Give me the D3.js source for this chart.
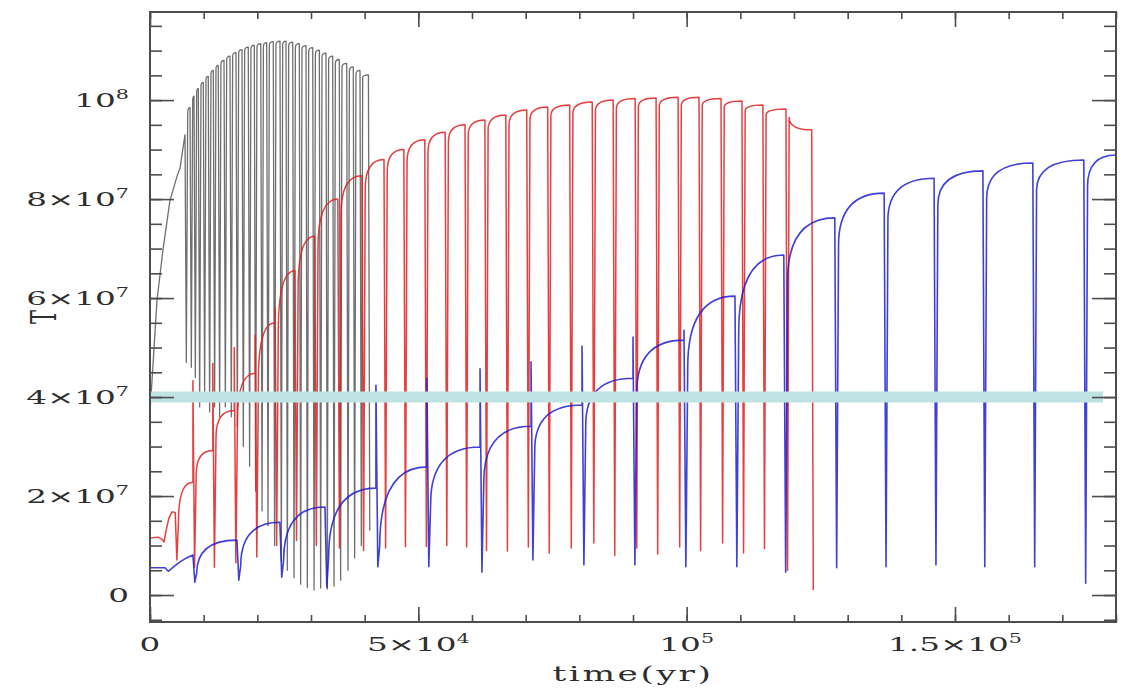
<!DOCTYPE html>
<html>
<head>
<meta charset="utf-8">
<script src="https://cdn.jsdelivr.net/npm/d3@7"></script>
<style>
  html, body { margin: 0; padding: 0; background: #fff; }
  svg { display: block; }
</style>
</head>
<body>
<svg id="chart"></svg>
<script>
// units: time in 10^3 yr, T in 10^6 K

// black run
const blackLead = [[0, 37], [0.5, 45.5], [1.3, 59.5], [2.4, 69.6], [3.7, 79.6], [5.0, 84.5], [5.6, 86.3], [6.1, 90]];
const blackTime = [6.52, 7.45, 8.20, 9.00, 9.93, 10.86, 11.79, 12.72, 13.79, 14.90, 16.02, 17.14, 18.31, 19.43, 20.63, 21.74,
  22.97, 24.22, 25.34, 26.59, 27.82, 29.07, 30.32, 31.55, 32.79, 34.04, 35.27, 36.65, 37.88, 39.13, 40.70];
const blackPre = [93.0, 98.5, 100.8, 102.3, 103.6, 104.8, 106.0, 107.0, 108.0, 108.9, 109.6, 110.2, 110.7, 111.1, 111.4, 111.6,
  111.8, 111.9, 111.9, 111.7, 111.4, 111.0, 110.6, 110.1, 109.5, 108.9, 108.2, 107.4, 106.7, 106.0, 105.1];
const blackLo = [47, 46, 44, 38, 40, 37, 38, 36, 38, 36, 34, 30, 26, 21, 17, 14,
  10, 7, 5, 3.5, 2.2, 1.5, 1.0, 1.4, 1.2, 1.8, 3.0, 5.0, 7.5, 10, 13];
const blackPost = [97.0, 99.8, 101.5, 102.8, 104.0, 105.2, 106.2, 107.2, 108.1, 108.8, 109.4, 109.9, 110.3, 110.6, 110.8, 111.0,
  111.1, 111.1, 110.9, 110.6, 110.2, 109.8, 109.3, 108.7, 108.1, 107.4, 106.6, 105.9, 105.2, 104.5, null];

// red run
const redLead = [[0, 14.7], [0, 11.5], [1.5, 11.7], [2.2, 11.3], [2.6, 10.7], [3.0, 13.0], [3.5, 15.5], [4.1, 16.8]];
const redTime = [4.7, 8.0, 11.7, 15.7, 19.6, 23.3, 27.0, 30.7, 35.0, 39.5, 43.6, 47.3, 51.2, 55.0, 58.7, 62.4,
  66.3, 70.2, 74.1, 78.2, 82.4, 86.3, 90.4, 94.3, 98.4, 102.3, 106.4, 110.3, 114.2, 118.5, 123.3];
const redPre = [16.7, 22.8, 29.2, 37.3, 44.8, 55.0, 65.5, 72.5, 80.0, 84.7, 88.0, 90.0, 92.0, 93.5, 95.0, 96.0,
  97.0, 98.0, 98.6, 99.0, 99.6, 100.0, 100.3, 100.4, 100.6, 100.6, 100.3, 99.8, 99.0, 98.2, 94.0];
const redHi = [null, 43.3, 46.8, 50.0, 52.5, 58.0, null, null, null, null, null, null, null, null, null, null,
  null, null, null, null, null, null, null, null, null, null, null, null, null, null, null];
const redLo = [7.1, 5.6, 5.6, 6.5, 7.7, 10.0, 11.0, 10.0, 9.5, 9.0, 9.5, 9.8, 9.8, 10.0, 9.7, 9.0,
  8.9, 9.7, 8.5, 9.5, 10.5, 8.0, 9.5, 8.3, 9.7, 9.0, 10.5, 8.5, 9.4, 5.0, 1.0];
const redPost = [14.7, 24.2, 31.9, 35.3, 43.3, 53.0, 62.0, 70.0, 77.0, 82.0, 85.5, 87.5, 89.5, 91.5, 93.0, 94.0,
  95.0, 96.0, 96.8, 97.3, 97.8, 98.3, 98.6, 98.8, 98.9, 98.8, 98.5, 97.8, 97.0, 96.5, null];

// blue run
const blueLead = [[0, 0.4], [0, 5.5], [2.8, 5.5], [3.4, 4.8], [4.5, 5.8], [5.6, 6.7], [6.8, 7.5]];
const blueTime = [8.0, 16.2, 24.2, 32.6, 42.1, 51.6, 61.5, 71.0, 80.5, 90.0, 99.5, 109.0, 118.1, 127.6, 136.8, 146.1, 155.2, 164.5, 174.0];
const bluePre = [8.1, 11.1, 14.7, 17.8, 21.6, 25.9, 29.9, 34.1, 38.4, 43.8, 51.5, 60.4, 68.7, 76.2, 81.2, 84.2, 85.7, 87.3, 87.9];
const blueHi = [null, null, null, null, 42.4, 43.8, 45.7, 47.1, 50.3, 52.1, 53.5, null, null, null, null, null, null, null, null];
const blueLo = [2.6, 3.0, 3.6, 1.6, 5.7, 5.7, 4.6, 7.1, 6.1, 6.1, 5.7, 5.7, 4.6, 5.5, 5.7, 6.1, 5.7, 5.7, 2.4];
const bluePost = [4.4, 5.9, 7.1, 7.9, 9.9, 18.6, 23.0, 29.5, 34.5, 41.0, 46.1, 53.3, 63.4, 70.7, 75.8, 78.8, 80.2, 81.8, 82.6];
const blueTail = [180, 88.9];

// reference level
const refLevel = 40;
const refSpan = [0, 177.6];

// ticks
const xMajor = [0, 50, 100, 150];
const xLabels = [['0', ''], ['5×10', '4'], ['10', '5'], ['1.5×10', '5']];
const yMajor = [0, 20, 40, 60, 80, 100];
const yLabels = [['0', ''], ['2×10', '7'], ['4×10', '7'], ['6×10', '7'], ['8×10', '7'], ['10', '8']];
const xMinor = d3.range(0, 181, 10);
const yMinor = d3.range(-5, 116, 5);

const width = 1129;
const height = 690;
const plotLeft = 150, plotRight = 1116, plotTop = 12, plotBottom = 622;
const stretch = 1.72;   // the picture is squashed sideways, text too
const font = '"DejaVu Serif", serif';

const svg = d3.select('#chart')
  .attr('width', width)
  .attr('height', height)
  .attr('viewBox', [0, 0, width, height])
  .style('background', '#fff');

const x = d3.scaleLinear().domain([0, 180]).range([plotLeft, plotRight]);
const y = d3.scaleLinear().domain([-5.45, 117.8]).range([plotBottom, plotTop]);

svg.append('clipPath').attr('id', 'plot')
  .append('rect')
  .attr('x', plotLeft).attr('y', plotTop)
  .attr('width', plotRight - plotLeft).attr('height', plotBottom - plotTop);

// -------- curves --------------

function pulsePath(lead, time, pre, hi, lo, post, tail, w) {
  const p = d3.path();
  p.moveTo(x(lead[0][0]), y(lead[0][1]));
  lead.slice(1).forEach(d => p.lineTo(x(d[0]), y(d[1])));
  time.forEach((t, i) => {
    p.lineTo(x(t), y(pre[i]));
    if (hi && hi[i] != null) p.lineTo(x(t), y(hi[i]));
    p.lineTo(x(t + w), y(lo[i]));
    if (post[i] == null) return;
    const t0 = t + 2 * w;
    p.lineTo(x(t0), y(post[i]));
    const next = i + 1 < time.length ? [time[i + 1], pre[i + 1]] : tail;
    if (next) p.quadraticCurveTo(x(t0), y(next[1]), x(next[0]), y(next[1]));
  });
  return p.toString();
}

const runs = [
  { d: pulsePath(blackLead, blackTime, blackPre, null, blackLo, blackPost, null, 0.25), color: '#222', sw: 1.3, op: 0.65 },
  { d: pulsePath(redLead, redTime, redPre, redHi, redLo, redPost, null, 0.3), color: '#e11d1d', sw: 1.5, op: 0.85 },
  { d: pulsePath(blueLead, blueTime, bluePre, blueHi, blueLo, bluePost, blueTail, 0.35), color: '#1f1fd0', sw: 1.6, op: 0.85 }
];

svg.append('g')
  .attr('clip-path', 'url(#plot)')
  .selectAll('path')
  .data(runs)
  .join('path')
    .attr('d', d => d.d)
    .attr('fill', 'none')
    .attr('stroke', d => d.color)
    .attr('stroke-width', d => d.sw)
    .attr('stroke-opacity', d => d.op)
    .attr('stroke-linejoin', 'round');

svg.append('line')
  .attr('x1', x(refSpan[0])).attr('x2', x(refSpan[1]))
  .attr('y1', y(refLevel)).attr('y2', y(refLevel))
  .attr('stroke', '#bfe2e3')
  .attr('stroke-width', 11);

// -------- frame & ticks --------------

const axes = svg.append('g');
const tick = (axis, vals, size) => axis.tickValues(vals).tickSize(size).tickFormat('');

axes.append('g').attr('transform', `translate(${plotLeft},0)`).call(tick(d3.axisLeft(y), yMinor, -12));
axes.append('g').attr('transform', `translate(${plotLeft},0)`).call(tick(d3.axisLeft(y), yMajor, -24));
axes.append('g').attr('transform', `translate(${plotRight},0)`).call(tick(d3.axisRight(y), yMinor, -12));
axes.append('g').attr('transform', `translate(${plotRight},0)`).call(tick(d3.axisRight(y), yMajor, -24));
axes.append('g').attr('transform', `translate(0,${plotBottom})`).call(tick(d3.axisBottom(x), xMinor, -7));
axes.append('g').attr('transform', `translate(0,${plotBottom})`).call(tick(d3.axisBottom(x), xMajor, -15));
axes.append('g').attr('transform', `translate(0,${plotTop})`).call(tick(d3.axisTop(x), xMinor, -7));
axes.append('g').attr('transform', `translate(0,${plotTop})`).call(tick(d3.axisTop(x), xMajor, -15));
axes.selectAll('.domain').remove();
axes.selectAll('.tick line').attr('stroke', '#4d4d4d').attr('stroke-width', 1.6);

axes.append('rect')
  .attr('x', plotLeft).attr('y', plotTop)
  .attr('width', plotRight - plotLeft).attr('height', plotBottom - plotTop)
  .attr('fill', 'none')
  .attr('stroke', '#4d4d4d')
  .attr('stroke-width', 2);

function label(sel, [base, sup]) {
  sel.append('tspan').text(base);
  if (sup) sel.append('tspan').attr('dy', '-0.65em').attr('font-size', 12).text(sup);
}

svg.append('g')
  .selectAll('text')
  .data(yMajor)
  .join('text')
    .attr('transform', d => `translate(129,${y(d)}) scale(${stretch},1)`)
    .attr('dy', '0.35em')
    .attr('text-anchor', 'end')
    .attr('font-family', font)
    .attr('font-size', 19)
    .attr('fill', '#2e2e2e')
    .each(function (d, i) { label(d3.select(this), yLabels[i]); });

svg.append('g')
  .selectAll('text')
  .data(xMajor)
  .join('text')
    .attr('transform', d => `translate(${x(d)},651) scale(${stretch},1)`)
    .attr('text-anchor', 'middle')
    .attr('font-family', font)
    .attr('font-size', 19)
    .attr('fill', '#2e2e2e')
    .each(function (d, i) { label(d3.select(this), xLabels[i]); });

svg.append('text')
  .attr('transform', `translate(${(plotLeft + plotRight) / 2},681) scale(${stretch},1)`)
  .attr('text-anchor', 'middle')
  .attr('font-family', font)
  .attr('font-size', 20)
  .attr('letter-spacing', 1.5)
  .attr('fill', '#2e2e2e')
  .text('time(yr)');

svg.append('text')
  .attr('transform', `translate(43,317) scale(${stretch},1) rotate(-90)`)
  .attr('text-anchor', 'middle')
  .attr('dy', '0.35em')
  .attr('font-family', font)
  .attr('font-size', 21)
  .attr('fill', '#2e2e2e')
  .text('T');
</script>
</body>
</html>
